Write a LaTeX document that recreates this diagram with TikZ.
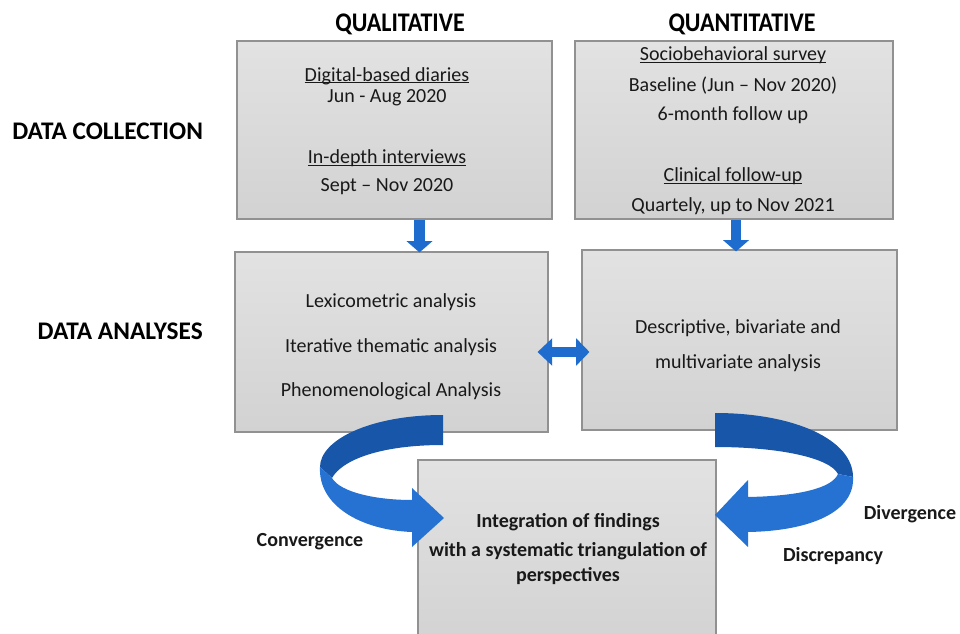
\documentclass[tikz,border=0pt]{standalone}
\usepackage{fontspec}
\setmainfont{Carlito}
\usetikzlibrary{arrows.meta,calc}
\definecolor{boxtop}{RGB}{226,226,226}
\definecolor{boxbot}{RGB}{210,210,210}
\definecolor{boxline}{RGB}{145,145,145}
\definecolor{arrowblue}{RGB}{30,108,206}
\definecolor{ribdark}{RGB}{24,86,170}
\definecolor{riblight}{RGB}{38,114,210}
\definecolor{txt}{RGB}{25,25,25}
\newcommand\myul[1]{\setbox0=\hbox{#1}\leavevmode\rlap{\rule[-1.6pt]{\wd0}{0.7pt}}\box0}
\begin{document}
\begin{tikzpicture}[x=0.75pt,y=-0.75pt,
  box/.style={draw=boxline, line width=0.8pt, top color=boxtop, bottom color=boxbot, inner sep=0pt},
  body/.style={text=txt, font=\fontsize{15}{18}\selectfont, inner sep=0pt, align=center},
  bbody/.style={text=txt, font=\fontsize{15}{18}\selectfont\bfseries, inner sep=0pt, align=center},
  head/.style={text=black, font=\fontsize{18}{22}\selectfont\bfseries, inner sep=0pt},
  sidehead/.style={text=black, font=\fontsize{19}{23}\selectfont\bfseries, inner sep=0pt},
  blockdown/.style={draw=arrowblue, line width=8pt, -{Triangle[width=19pt,length=8.5pt]}},
  blockboth/.style={draw=arrowblue, line width=7.5pt, {Triangle[width=20pt,length=11pt]}-{Triangle[width=20pt,length=10pt]}},
]
\useasboundingbox (0,0) rectangle (960,634);
\fill[white] (0,0) rectangle (960,634);

% headings
\node[head] (hql) at (400,24) {\scalebox{1}[1.12]{QUALITATIVE}};
\node[head] (hqn) at (742,24) {\scalebox{1}[1.12]{QUANTITATIVE}};
\node[sidehead, anchor=west] (hdc) at (12,131) {DATA COLLECTION};
\node[sidehead, anchor=east] (hda) at (203,331) {DATA ANALYSES};

% boxes
\node[box, minimum width=236.25pt, minimum height=133.5pt] (ql1) at (394.5,130) {};
\node[box, minimum width=238.5pt, minimum height=133.5pt] (qn1) at (734,130) {};
\node[box, minimum width=234.75pt, minimum height=135pt] (ql2) at (391.5,342) {};
\node[box, minimum width=236.25pt, minimum height=135pt] (qn2) at (739.5,340) {};
\node[box, minimum width=223.5pt, minimum height=142.5pt] (int) at (567,555) {};

% texts box ql1
\node[body] (t1) at (387,76) {\myul{Digital-based diaries}};
\node[body] (t2) at (387,98) {Jun - Aug 2020};
\node[body] (t3) at (387,158) {\myul{In-depth interviews}};
\node[body] (t4) at (387,187) {Sept -- Nov 2020};
% texts box qn1
\node[body] (t5) at (733,55) {\myul{Sociobehavioral survey}};
\node[body] (t6) at (733,86) {Baseline (Jun -- Nov 2020)};
\node[body] (t7) at (733,115) {6-month follow up};
\node[body] (t8) at (733,176) {\myul{Clinical follow-up}};
\node[body] (t9) at (733,206) {Quartely, up to Nov 2021};
% texts box ql2
\node[body] (t10) at (391,302) {Lexicometric analysis};
\node[body] (t11) at (391,347) {Iterative thematic analysis};
\node[body] (t12) at (391,391) {Phenomenological Analysis};
% texts box qn2
\node[body] (t13) at (738,328) {Descriptive, bivariate and};
\node[body] (t14) at (738,363) {multivariate analysis};

% block arrows
\draw[blockdown] ($(ql1.south)+(25,0)$) -- ($(ql2.north)+(28,1)$);
\draw[blockdown] ($(qn1.south)+(2,0)$) -- ($(qn2.north)+(-3.5,2)$);
\draw[blockboth] ($(ql2.east)+(-11,10)$) -- ($(qn2.west)+(8,12)$);

% left ribbon (convergence)
\fill[ribdark] (443,415) .. controls (370,415) and (320,440) .. (320,467)
  -- (332,478) .. controls (342,460) and (380,445) .. (443,445) -- cycle;
\fill[riblight] (320,467) .. controls (318,505) and (360,530) .. (412,532)
  -- (412,547) -- (444,518) -- (412,488) -- (412,500)
  .. controls (375,500) and (340,492) .. (332,478) -- cycle;

% right ribbon (divergence / discrepancy)
\fill[ribdark] (715,413) .. controls (795,413) and (853,440) .. (853,477)
  -- (838,474) .. controls (830,458) and (780,447) .. (715,447) -- cycle;
\fill[riblight] (853,477) .. controls (855,512) and (810,531) .. (748,532)
  -- (748,547) -- (715,515) -- (748,480) -- (748,497)
  .. controls (800,496) and (832,488) .. (838,474) -- cycle;

% bottom box text
\node[bbody] (t15) at (568,522) {Integration of findings};
\node[bbody] (t16) at (568,551) {with a systematic triangulation of};
\node[bbody] (t17) at (568,576) {perspectives};

% labels
\node[bbody] (lc) at (310,542) {Convergence};
\node[bbody] (ldv) at (910,514) {Divergence};
\node[bbody] (lds) at (833,556) {Discrepancy};
\end{tikzpicture}
\end{document}
